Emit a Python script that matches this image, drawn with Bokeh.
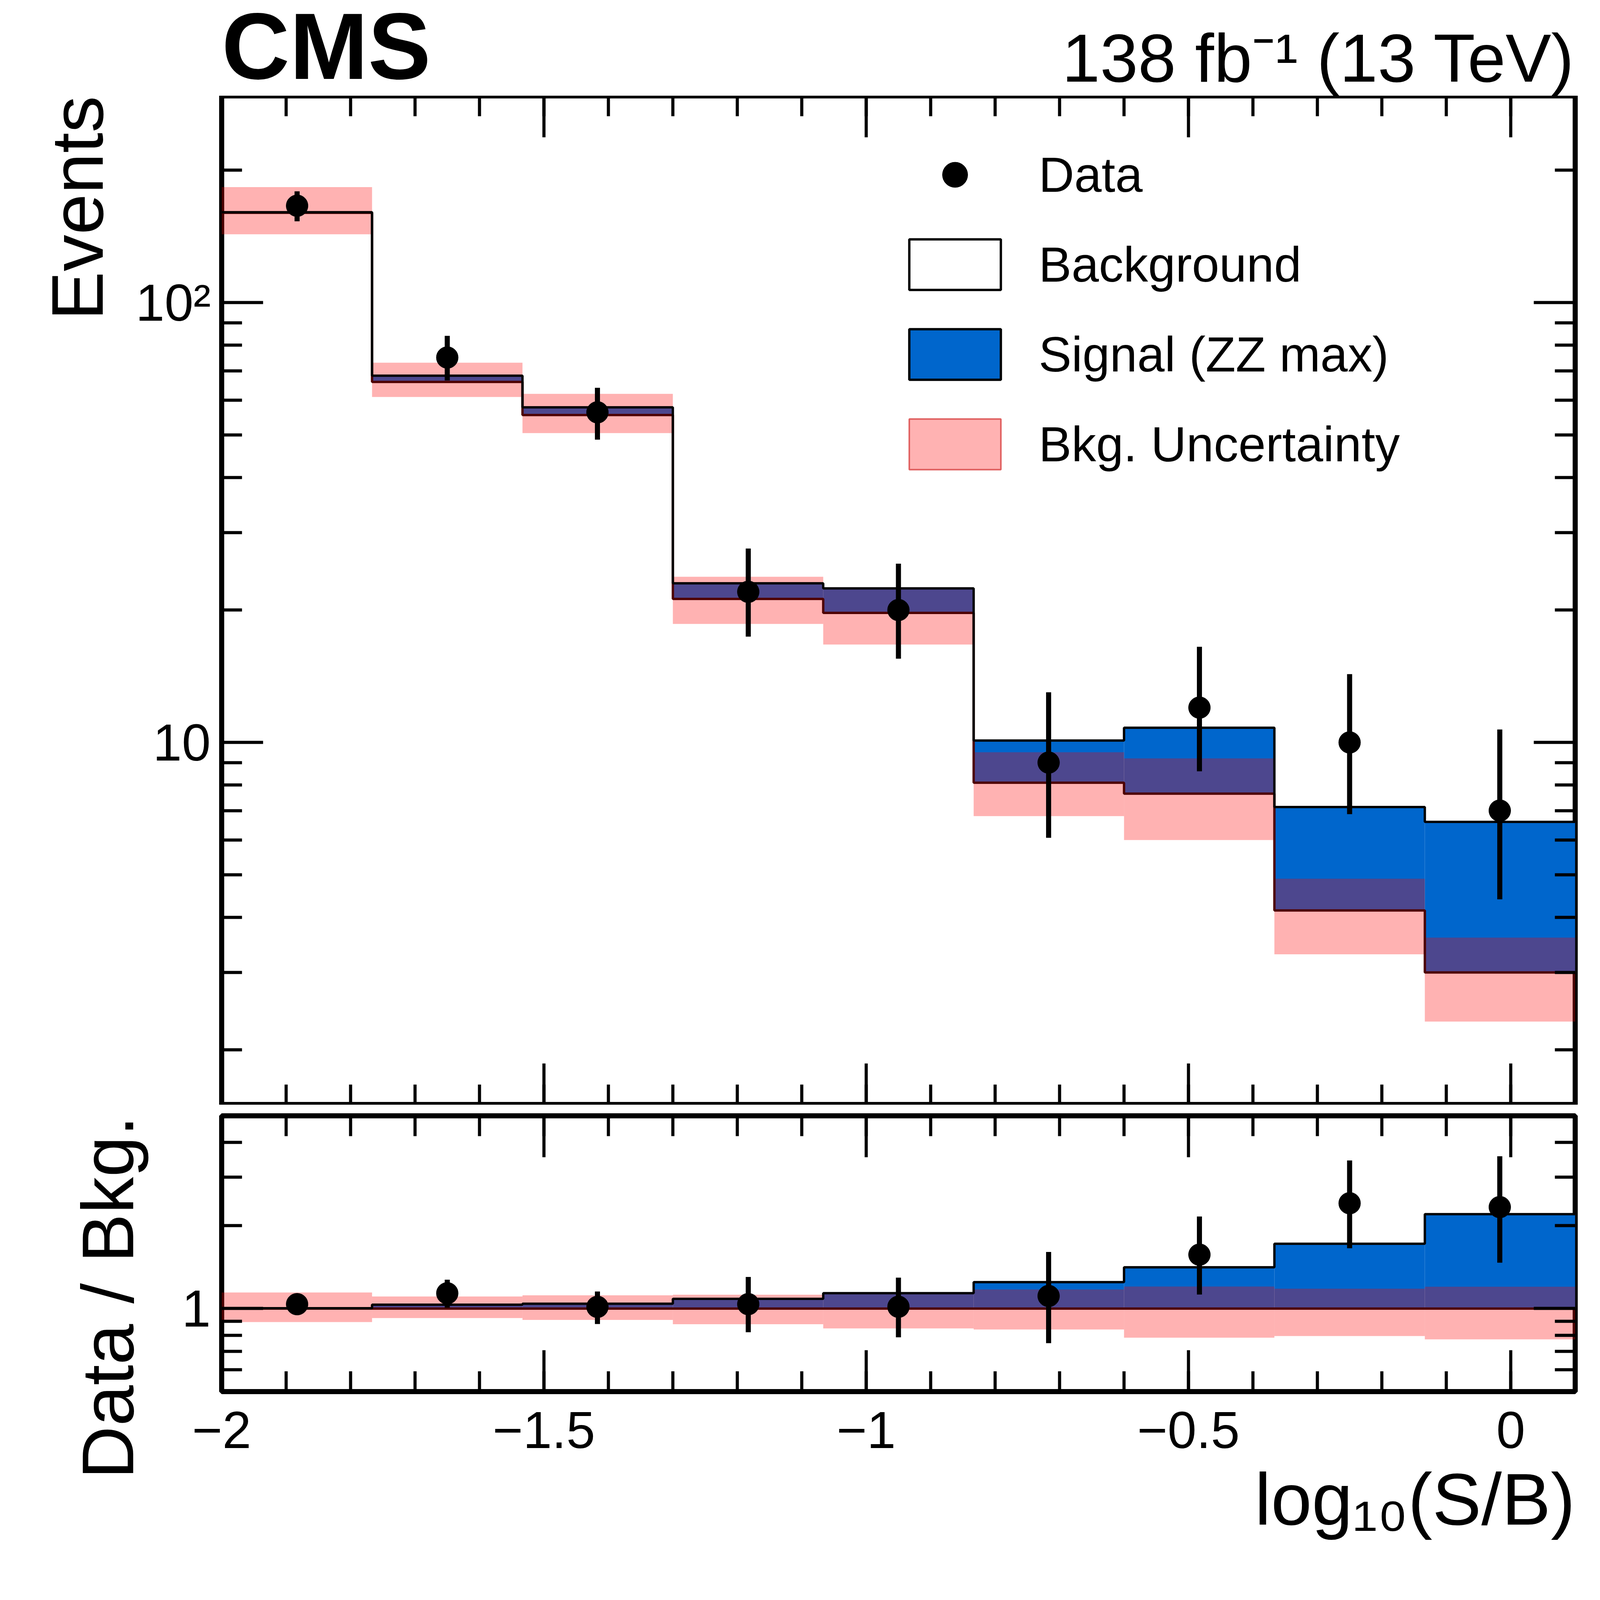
import numpy as np
from bokeh.plotting import figure
from bokeh.layouts import column
from bokeh.models import (FixedTicker, LinearAxis, LogAxis, Label, CustomJSTickFormatter,
                          Legend, LegendItem, Range1d, Title)
from bokeh.embed import file_html
from bokeh.resources import INLINE

edges = [-2.0, -1.7667, -1.5333, -1.3, -1.0667, -0.8333, -0.6, -0.3667, -0.1333, 0.1]
centers = [-1.883, -1.65, -1.417, -1.183, -0.95, -0.717, -0.483, -0.25, -0.017]
bkg = [160, 66, 55.5, 21.2, 19.7, 8.1, 7.65, 4.15, 3.0]
total = [160.5, 68.2, 57.8, 23.0, 22.4, 10.1, 10.8, 7.13, 6.6]
band_hi = [183, 73, 62, 23.8, 22.5, 9.5, 9.2, 4.9, 3.6]
band_lo = [143, 61, 50.5, 18.6, 16.7, 6.8, 6.0, 3.3, 2.32]
data = [166, 75, 56.3, 22, 20, 9.0, 12, 10, 7.0]
data_hi = [179, 84, 64, 27.6, 25.5, 13.0, 16.5, 14.3, 10.7]
data_lo = [153, 66.5, 48.8, 17.4, 15.5, 6.07, 8.6, 6.87, 4.4]

FONT = "Liberation Sans"
BLUE = "#0066CC"
DARKRED = "#4D0000"

S = 0.7
def z(v):
    return int(round(v * S))
def fs(v):
    return f"{v * S:.0f}px"

L, R, T, B = z(810), z(30), z(350), z(600)
FW, FH1, FH2, GAP = z(4950), z(3690), z(1008), z(40)
XR = (edges[0], edges[-1])

lo = np.array(edges[:-1]); hi = np.array(edges[1:])
bk = np.array(bkg, float)


def blank(ax):
    ax.formatter = CustomJSTickFormatter(code="return '';")
    ax.major_label_standoff = 0


def style(p, xt, xminor, yt, yminor, ylog, show_x):
    p.outline_line_color = "black"
    p.outline_line_width = z(18)
    p.grid.visible = False
    xtick = FixedTicker(ticks=xt, minor_ticks=xminor)
    ytick = FixedTicker(ticks=yt, minor_ticks=yminor)
    for ax in p.xaxis:
        ax.ticker = xtick
    for ax in p.yaxis:
        ax.ticker = ytick
    p.add_layout(LinearAxis(ticker=xtick), "above")
    p.add_layout((LogAxis if ylog else LinearAxis)(ticker=ytick), "right")
    for ax in p.axis:
        ax.axis_line_color = None
        ax.major_tick_in = z(152)
        ax.major_tick_out = 0
        ax.minor_tick_in = z(75)
        ax.minor_tick_out = 0
        ax.major_tick_line_width = z(11)
        ax.minor_tick_line_width = z(11)
        ax.major_tick_line_color = "black"
        ax.minor_tick_line_color = "black"
        ax.major_label_text_font = FONT
        ax.major_label_text_font_size = fs(190)
        ax.major_label_text_color = "black"
        ax.major_label_standoff = z(40)
    for ax in p.above + p.right:
        blank(ax)
    if not show_x:
        for ax in p.below:
            blank(ax)


def side_title(p, text, side, standoff):
    p.add_layout(Title(text=text, align="right", text_font=FONT, text_font_style="normal",
                       text_font_size=fs(268), text_color="black", standoff=standoff), side)


xt = [-2, -1.5, -1, -0.5, 0]
xminor = [round(-2 + 0.1 * i, 1) for i in range(22)]

# ---------- header (CMS / lumi) ----------
ph = figure(width=L + FW + R, height=T, x_range=Range1d(*XR), y_range=Range1d(0, 1),
            output_backend="svg", toolbar_location=None,
            min_border_left=L, min_border_right=R, min_border_top=0, min_border_bottom=0)
ph.axis.visible = False
ph.grid.visible = False
ph.outline_line_color = None
ph.add_layout(Label(x=XR[0], y=0, text="CMS", y_offset=-z(10), text_baseline="bottom", text_color="black",
                    text_font=FONT, text_font_style="bold", text_font_size=fs(345)))
ph.add_layout(Label(x=XR[1], y=0, text="138 fb⁻¹ (13 TeV)", y_offset=0, text_baseline="bottom",
                    text_color="black", text_align="right", text_font=FONT, text_font_size=fs(250)))

# ---------- main panel ----------
p1 = figure(width=L + FW + R, height=FH1, y_axis_type="log",
            x_range=ph.x_range, y_range=Range1d(1.5, 295),
            output_backend="svg", toolbar_location=None,
            min_border_left=L, min_border_right=R, min_border_top=0, min_border_bottom=0)
style(p1, xt, xminor, [10, 100],
      [2, 3, 4, 5, 6, 7, 8, 9, 20, 30, 40, 50, 60, 70, 80, 90, 200, 300], True, False)
p1.left[0].major_label_overrides = {10: "10", 100: "10²"}
side_title(p1, "Events", "left", z(120))

p1.quad(left=lo, right=hi, bottom=bk, top=total, fill_color=BLUE, line_color=None)
p1.quad(left=lo, right=hi, bottom=band_lo, top=band_hi, fill_color="red", fill_alpha=0.3, line_color=None)
p1.step(x=edges, y=list(bkg) + [bkg[-1]], mode="after", line_color=DARKRED, line_width=z(9))
p1.step(x=edges, y=list(total) + [total[-1]], mode="after", line_color="black", line_width=z(9))
p1.segment(x0=centers, x1=centers, y0=data_lo, y1=data_hi, line_color="black", line_width=z(18))
r_data = p1.scatter(x=centers, y=data, size=z(80), color="black")

# legend-only boxes (placed outside the visible x range)
off = [XR[1] + 1]
off2 = [XR[1] + 2]
r_bkg = p1.quad(left=off, right=off2, bottom=[2], top=[3], fill_color="white", line_color="black", line_width=z(8))
r_sig = p1.quad(left=off, right=off2, bottom=[2], top=[3], fill_color=BLUE, line_color="black", line_width=z(8))
r_unc = p1.quad(left=off, right=off2, bottom=[2], top=[3], fill_color="red", fill_alpha=0.3,
                line_color="#E06060", line_width=z(6))
leg = Legend(items=[LegendItem(label="Data", renderers=[r_data]),
                    LegendItem(label="Background", renderers=[r_bkg]),
                    LegendItem(label="Signal (ZZ max)", renderers=[r_sig]),
                    LegendItem(label="Bkg. Uncertainty", renderers=[r_unc])],
             location=(z(2473), z(2300)), glyph_width=z(418), glyph_height=z(231), spacing=z(97),
             label_standoff=z(97), padding=0, margin=0, border_line_color=None,
             background_fill_alpha=0, label_text_font=FONT, label_text_font_size=fs(180),
             label_text_color="black", label_height=z(231))
p1.add_layout(leg, "center")

# ---------- ratio panel ----------
p2 = figure(width=L + FW + R, height=GAP + FH2 + B, y_axis_type="log",
            x_range=ph.x_range, y_range=Range1d(0.5, 5),
            output_backend="svg", toolbar_location=None,
            min_border_left=L, min_border_right=R, min_border_top=GAP, min_border_bottom=B)
style(p2, xt, xminor, [1], [0.5, 0.6, 0.7, 0.8, 0.9, 2, 3, 4, 5], True, True)
p2.left[0].major_label_overrides = {1: "1"}
side_title(p2, "Data / Bkg.", "left", z(235))
xb = p2.below[0]
xb.major_label_overrides = {-2: "−2", -1.5: "−1.5", -1: "−1", -0.5: "−0.5", 0: "0"}
xb.major_label_standoff = z(75)
side_title(p2, "log₁₀(S/B)", "below", z(60))

r_tot = np.array(total) / bk
p2.quad(left=lo, right=hi, bottom=np.ones(9), top=r_tot, fill_color=BLUE, line_color=None)
p2.quad(left=lo, right=hi, bottom=np.array(band_lo) / bk, top=np.array(band_hi) / bk,
        fill_color="red", fill_alpha=0.3, line_color=None)
p2.step(x=edges, y=[1.0] * 10, mode="after", line_color=DARKRED, line_width=z(9))
p2.step(x=edges, y=list(r_tot) + [r_tot[-1]], mode="after", line_color="black", line_width=z(9))
p2.segment(x0=centers, x1=centers, y0=np.array(data_lo) / bk, y1=np.array(data_hi) / bk,
           line_color="black", line_width=z(18))
p2.scatter(x=centers, y=np.array(data) / bk, size=z(80), color="black")

layout = column(ph, p1, p2, spacing=0)
open("out.html", "w").write(file_html(layout, INLINE))
